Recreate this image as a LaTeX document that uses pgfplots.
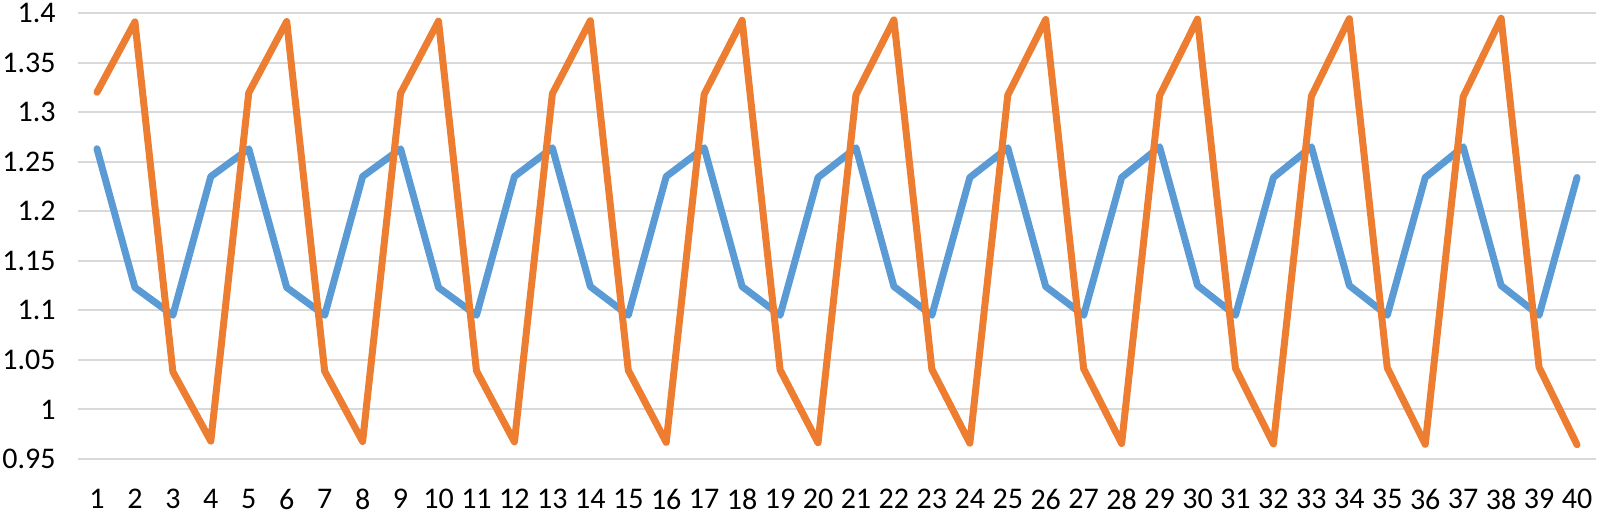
\documentclass[border=0pt]{standalone}
\usepackage{pgfplots}
\pgfplotsset{compat=1.18}
\usepackage{fontspec}
\setmainfont{Carlito}
\definecolor{xlblue}{HTML}{5B9BD5}
\definecolor{xlorange}{HTML}{ED7D31}
\definecolor{xlgrid}{HTML}{D9D9D9}

\begin{document}
\begin{tikzpicture}
\begin{axis}[
    scale only axis,
    width=759pt, height=223pt,
    xmin=0.5, xmax=40.5,
    ymin=0.95, ymax=1.4,
    axis line style={draw=none},
    tick style={draw=none},
    xtick={1,...,40},
    ytick={0.95,1,1.05,1.1,1.15,1.2,1.25,1.3,1.35,1.4},
    yticklabels={0.95,1,1.05,1.1,1.15,1.2,1.25,1.3,1.35,1.4},
    ymajorgrids=true,
    major grid style={color=xlgrid, line width=1pt},
    /pgf/number format/assume math mode=true,
    ticklabel style={font=\fontsize{15}{18}\selectfont, text=black, inner sep=0pt},
    yticklabel style={xshift=-11pt},
    xticklabel style={yshift=-15pt},
    every axis plot/.append style={line width=3.5pt, line cap=round, line join=round, mark=none},
]
% blue series
\addplot[color=xlblue] coordinates {
(1,1.263)(2,1.123)(3,1.095)(4,1.235)
(5,1.263)(6,1.123)(7,1.095)(8,1.235)
(9,1.263)(10,1.123)(11,1.095)(12,1.235)
(13,1.264)(14,1.124)(15,1.095)(16,1.235)
(17,1.264)(18,1.124)(19,1.095)(20,1.234)
(21,1.264)(22,1.124)(23,1.095)(24,1.234)
(25,1.264)(26,1.124)(27,1.095)(28,1.234)
(29,1.265)(30,1.125)(31,1.095)(32,1.234)
(33,1.265)(34,1.125)(35,1.095)(36,1.234)
(37,1.265)(38,1.125)(39,1.095)(40,1.234)
};
% orange series
\addplot[color=xlorange] coordinates {
(1,1.320)(2,1.391)(3,1.038)(4,0.968)
(5,1.3195)(6,1.3914)(7,1.0385)(8,0.9676)
(9,1.319)(10,1.3918)(11,1.039)(12,0.9672)
(13,1.3185)(14,1.3922)(15,1.0395)(16,0.9668)
(17,1.318)(18,1.3926)(19,1.040)(20,0.9664)
(21,1.3175)(22,1.393)(23,1.0405)(24,0.966)
(25,1.317)(26,1.3934)(27,1.041)(28,0.9656)
(29,1.3165)(30,1.3938)(31,1.0415)(32,0.9652)
(33,1.316)(34,1.3942)(35,1.042)(36,0.9648)
(37,1.3155)(38,1.3946)(39,1.0425)(40,0.9644)
};
\end{axis}
\path (current axis.north west) ++(-39pt,6.5pt) (current axis.south east) ++(2pt,-28pt);
\end{tikzpicture}
\end{document}
